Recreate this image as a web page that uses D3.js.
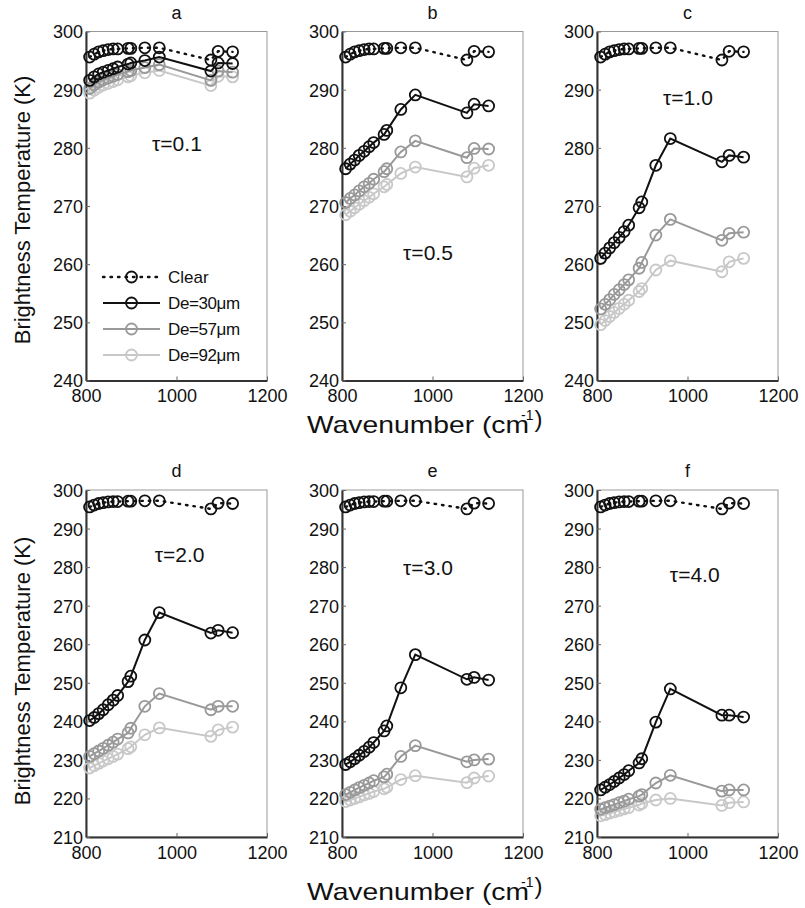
<!DOCTYPE html>
<html>
<head>
<meta charset="utf-8">
<script src="https://cdn.jsdelivr.net/npm/d3@7"></script>
<style>
body { margin: 0; background: #fff; }
text { font-family: "Liberation Sans", Arial, sans-serif; fill: #111; }
</style>
</head>
<body>
<svg width="805" height="908"></svg>
<script>
// wavenumbers of the channels (cm-1)
var wavenumber = [808, 818, 828, 838, 849, 860, 870, 893, 899, 930, 962, 1076, 1092, 1124]
var clear = [295.6, 296.1, 296.5, 296.7, 296.9, 297.0, 297.0, 297.1, 297.1, 297.2, 297.2, 295.1, 296.6, 296.5]

var panel_names = ['a', 'b', 'c', 'd', 'e', 'f']
var tau_labels = ['τ=0.1', 'τ=0.5', 'τ=1.0', 'τ=2.0', 'τ=3.0', 'τ=4.0']
var tau_x = [946, 935, 946, 952, 935, 961]
var tau_y = [280.8, 262.1, 288.7, 283.2, 279.8, 278.0]

var de30_a = [291.6, 292.2, 292.7, 293.0, 293.3, 293.6, 293.9, 294.4, 294.6, 295.0, 295.6, 293.2, 294.6, 294.5]
var de57_a = [290.2, 290.8, 291.3, 291.7, 292.0, 292.3, 292.6, 293.1, 293.3, 293.8, 294.3, 291.6, 293.2, 293.0]
var de92_a = [289.4, 289.9, 290.4, 290.8, 291.1, 291.4, 291.7, 292.2, 292.4, 292.9, 293.3, 290.7, 292.3, 292.2]

var de30_b = [276.4, 277.2, 277.9, 278.7, 279.4, 280.2, 280.9, 282.3, 283.0, 286.6, 289.1, 286.0, 287.5, 287.2]
var de57_b = [270.6, 271.3, 271.9, 272.6, 273.3, 273.9, 274.6, 275.9, 276.4, 279.3, 281.2, 278.3, 279.9, 279.8]
var de92_b = [268.5, 269.1, 269.7, 270.3, 270.9, 271.5, 272.1, 273.3, 273.7, 275.6, 276.7, 275.0, 276.5, 277.0]

var de30_c = [261.0, 261.9, 262.8, 263.7, 264.6, 265.6, 266.7, 269.7, 270.7, 277.0, 281.6, 277.6, 278.7, 278.4]
var de57_c = [252.3, 253.1, 253.9, 254.8, 255.6, 256.5, 257.3, 259.3, 260.3, 265.0, 267.7, 264.1, 265.3, 265.5]
var de92_c = [249.6, 250.3, 251.0, 251.7, 252.4, 253.1, 253.8, 255.3, 255.8, 259.0, 260.6, 258.7, 260.4, 261.0]

var de30_d = [240.2, 241.0, 242.0, 243.0, 244.3, 245.5, 246.7, 250.3, 251.7, 261.1, 268.2, 262.9, 263.6, 263.0]
var de57_d = [230.9, 231.6, 232.3, 233.0, 233.8, 234.6, 235.4, 237.0, 238.2, 243.9, 247.2, 243.0, 243.9, 243.9]
var de92_d = [227.9, 228.5, 229.1, 229.7, 230.3, 230.9, 231.5, 232.9, 233.4, 236.5, 238.3, 236.1, 237.8, 238.5]

var de30_e = [228.8, 229.5, 230.3, 231.2, 232.2, 233.3, 234.5, 237.5, 238.8, 248.7, 257.3, 250.9, 251.4, 250.7]
var de57_e = [221.0, 221.6, 222.2, 222.8, 223.4, 224.0, 224.6, 225.6, 226.3, 230.9, 233.7, 229.5, 230.0, 230.2]
var de92_e = [219.2, 219.6, 220.0, 220.4, 220.9, 221.3, 221.8, 222.5, 222.9, 224.9, 225.9, 224.1, 225.3, 225.8]

var de30_f = [222.2, 222.9, 223.6, 224.4, 225.3, 226.2, 227.2, 229.2, 230.3, 239.8, 248.4, 241.6, 241.6, 241.1]
var de57_f = [217.2, 217.6, 218.0, 218.4, 218.9, 219.3, 219.8, 220.6, 221.0, 224.0, 226.0, 221.9, 222.2, 222.2]
var de92_f = [215.5, 215.8, 216.2, 216.5, 216.9, 217.3, 217.6, 218.3, 218.7, 219.6, 220.0, 218.2, 218.9, 219.1]

var series_names = ['Clear', 'De=30μm', 'De=57μm', 'De=92μm']
var series_colors = ['#111', '#111', '#999', '#c8c8c8']
var x_ticks = [800, 1000, 1200]
var y_ticks_top = [240, 250, 260, 270, 280, 290, 300]
var y_ticks_bottom = [210, 220, 230, 240, 250, 260, 270, 280, 290, 300]

var de30 = [de30_a, de30_b, de30_c, de30_d, de30_e, de30_f]
var de57 = [de57_a, de57_b, de57_c, de57_d, de57_e, de57_f]
var de92 = [de92_a, de92_b, de92_c, de92_d, de92_e, de92_f]

var svg = d3.select('svg')
var col_left = [86, 342, 597]
var plot_w = 181
var rows = [
    {top: 31.5, bottom: 380.5, domain: [240, 300], ticks: y_ticks_top},
    {top: 490, bottom: 837, domain: [210, 300], ticks: y_ticks_bottom}
]

function pts(ys) {
    return wavenumber.map(function(w, i) { return [w, ys[i]] })
}

function drawSeries(g, x, y, data, color, dotted) {
    var line = d3.line()
        .x(function(d) { return x(d[0]) })
        .y(function(d) { return y(d[1]) })
    g.append('path')
        .attr('d', line(data))
        .style('fill', 'none')
        .style('stroke', color)
        .style('stroke-width', dotted ? 2.4 : 2)
        .style('stroke-dasharray', dotted ? '1.5,6' : null)
        .style('stroke-linecap', dotted ? 'round' : null)
    g.selectAll(null)
        .data(data)
        .enter()
        .append('circle')
        .attr('cx', function(d) { return x(d[0]) })
        .attr('cy', function(d) { return y(d[1]) })
        .attr('r', 5.5)
        .style('fill', 'none')
        .style('stroke', color)
        .style('stroke-width', 1.8)
}

panel_names.forEach(function(name, p) {
    var row = rows[Math.floor(p / 3)]
    var left = col_left[p % 3]
    var x = d3.scaleLinear().domain([800, 1200]).range([left, left + plot_w])
    var y = d3.scaleLinear().domain(row.domain).range([row.bottom, row.top])
    var g = svg.append('g')

    // box
    g.append('rect')
        .attr('x', left).attr('y', row.top)
        .attr('width', plot_w).attr('height', row.bottom - row.top)
        .style('fill', 'none').style('stroke', '#999').style('stroke-width', 1)

    var xa = g.append('g')
        .attr('transform', 'translate(0,' + row.bottom + ')')
        .call(d3.axisBottom(x).tickValues(x_ticks).tickFormat(d3.format('d'))
            .tickSize(-4).tickSizeOuter(0).tickPadding(9))
    var ya = g.append('g')
        .attr('transform', 'translate(' + left + ',0)')
        .call(d3.axisLeft(y).tickValues(row.ticks).tickFormat(d3.format('d'))
            .tickSize(-4).tickSizeOuter(0).tickPadding(3))
    ;[xa, ya].forEach(function(a) {
        a.select('.domain').style('stroke', '#333').style('stroke-width', 2)
        a.selectAll('.tick line').style('stroke', '#666')
        a.selectAll('text').style('font-size', '18px').style('fill', '#111')
    })
    ya.selectAll('text').attr('dy', '0.36em')

    g.append('text')
        .attr('x', left + plot_w / 2)
        .attr('y', row.top - 13)
        .attr('text-anchor', 'middle')
        .style('font-size', '18px')
        .text(name)

    drawSeries(g, x, y, pts(de92[p]), series_colors[3], false)
    drawSeries(g, x, y, pts(de57[p]), series_colors[2], false)
    drawSeries(g, x, y, pts(de30[p]), series_colors[1], false)
    drawSeries(g, x, y, pts(clear), series_colors[0], true)

    g.append('text')
        .attr('x', x(tau_x[p]))
        .attr('y', y(tau_y[p]))
        .attr('dy', '0.36em')
        .style('font-size', '21px')
        .text(tau_labels[p])
})

// legend in panel a
var leg = svg.append('g')
series_names.forEach(function(s, i) {
    var ly = 277 + i * 26
    leg.append('line')
        .attr('x1', 103).attr('x2', 160).attr('y1', ly).attr('y2', ly)
        .style('stroke', series_colors[i])
        .style('stroke-width', i == 0 ? 2.4 : 2)
        .style('stroke-dasharray', i == 0 ? '1.5,6' : null)
        .style('stroke-linecap', i == 0 ? 'round' : null)
    leg.append('circle')
        .attr('cx', 131.5).attr('cy', ly).attr('r', 5.5)
        .style('fill', 'none').style('stroke', series_colors[i]).style('stroke-width', 1.8)
    leg.append('text')
        .attr('x', 168).attr('y', ly).attr('dy', '0.36em')
        .attr('letter-spacing', i > 0 ? -0.4 : 0)
        .style('font-size', '17px')
        .text(s)
})

// axis titles
;[424, 891].forEach(function(cy) {
    svg.append('text')
        .attr('x', 307).attr('y', cy).attr('dy', '0.36em')
        .attr('textLength', 222).attr('lengthAdjust', 'spacingAndGlyphs')
        .style('font-size', '24px')
        .text('Wavenumber (cm')
    var t2 = svg.append('text')
        .attr('x', 521).attr('y', cy).attr('dy', '0.36em')
        .style('font-size', '24px')
    t2.append('tspan').attr('dy', '-0.26em').style('font-size', '14px').text('-1')
    t2.append('tspan').attr('dy', '0.26em').attr('dx', 1).text(')')
})
;[210, 671].forEach(function(cy) {
    svg.append('text')
        .attr('transform', 'translate(22,' + cy + ') rotate(-90)')
        .attr('text-anchor', 'middle')
        .attr('dy', '0.36em')
        .style('font-size', '22px')
        .text('Brightness Temperature (K)')
})
</script>
</body>
</html>
